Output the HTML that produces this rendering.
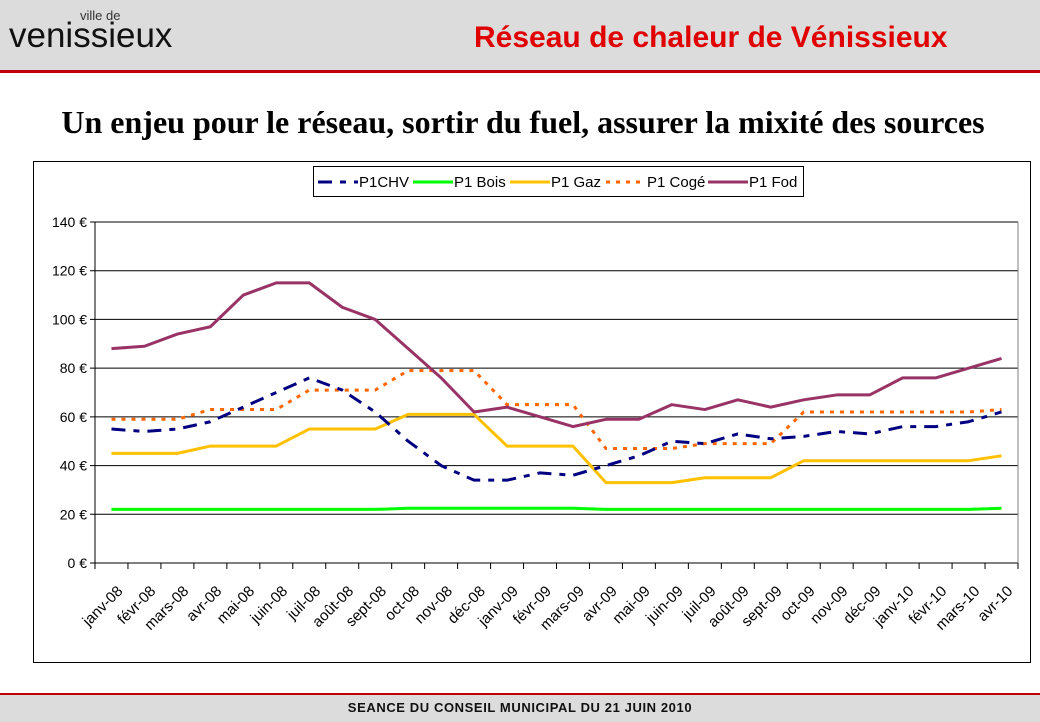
<!DOCTYPE html>
<html><head><meta charset="utf-8">
<style>
body{margin:0;width:1040px;height:720px;background:#fff;position:relative;overflow:hidden;font-family:"Liberation Sans",sans-serif}
#hdr{position:absolute;left:0;top:0;width:1040px;height:70px;background:#dcdcdc;border-bottom:3px solid #c00000}
#ftr{position:absolute;left:0;top:693px;width:1040px;height:27px;background:#dcdcdc;border-top:2px solid #c00000}
</style></head><body>
<div id="hdr">
 <div style="position:absolute;left:80px;top:8px;font-size:13px;color:#333">ville de</div>
 <div style="position:absolute;left:9px;top:18px;font-size:35px;line-height:36px;color:#111">venissieux</div>
 <div style="position:absolute;left:474px;top:21px;font-size:30px;font-weight:bold;color:#e00000;white-space:nowrap">Réseau de chaleur de Vénissieux</div>
</div>
<div style="position:absolute;left:0;width:1046px;top:104px;text-align:center;font-family:'Liberation Serif',serif;font-weight:bold;font-size:32px;color:#000;white-space:nowrap">Un enjeu pour le réseau, sortir du fuel, assurer la mixité des sources</div>
<svg id="chart" width="1040" height="720" style="position:absolute;left:0;top:0"></svg>
<div id="ftr"><div style="text-align:center;font-size:13px;font-weight:bold;letter-spacing:0.6px;margin-top:5px;color:#111">SEANCE DU CONSEIL MUNICIPAL DU 21 JUIN 2010</div></div>
<script>
const categories=["janv-08","févr-08","mars-08","avr-08","mai-08","juin-08","juil-08","août-08","sept-08","oct-08","nov-08","déc-08","janv-09","févr-09","mars-09","avr-09","mai-09","juin-09","juil-09","août-09","sept-09","oct-09","nov-09","déc-09","janv-10","févr-10","mars-10","avr-10"];
const chv=[55,54,55,58,64,70,76,71,62,50,40,34,34,37,36,40,44,50,49,53,51,52,54,53,56,56,58,62];
const bois=[22,22,22,22,22,22,22,22,22,22.5,22.5,22.5,22.5,22.5,22.5,22,22,22,22,22,22,22,22,22,22,22,22,22.5];
const gaz=[45,45,45,48,48,48,55,55,55,61,61,61,48,48,48,33,33,33,35,35,35,42,42,42,42,42,42,44];
const coge=[59,59,59,63,63,63,71,71,71,79,79,79,65,65,65,47,47,47,49,49,49,62,62,62,62,62,62,63];
const fod=[88,89,94,97,110,115,115,105,100,88,76,62,64,60,56,59,59,65,63,67,64,67,69,69,76,76,80,84];
const yTicks=[0,20,40,60,80,100,120,140];
const seriesNames=["P1CHV","P1 Bois","P1 Gaz","P1 Cogé","P1 Fod"];
const NS="http://www.w3.org/2000/svg",svg=document.getElementById('chart');
const X0=95,X1=1018,Y0=563,Y1=222,YMAX=140;
const step=(X1-X0)/categories.length;
const xs=i=>X0+step*(i+0.5), ys=v=>Y0-(v/YMAX)*(Y0-Y1);
function mk(t,a,p){const e=document.createElementNS(NS,t);for(const k in a)e.setAttribute(k,a[k]);(p||svg).appendChild(e);return e;}
const frame=mk('rect',{x:33.5,y:161.5,width:997,height:501,fill:'#fff',stroke:'#000'});


yTicks.forEach(v=>{
 const g=mk('line',{x1:X0-5,x2:X1,y1:ys(v),y2:ys(v),stroke:'#000','stroke-width':1});
 
 
 const t=mk('text',{x:X0-8,y:ys(v)+5,'text-anchor':'end','font-size':14,fill:'#000'});
 t.textContent=v+' €';
 
 
});
mk('line',{x1:X0,x2:X0,y1:Y1,y2:Y0,stroke:'#000'});
mk('line',{x1:X1,x2:X1,y1:Y1,y2:Y0,stroke:'#808080'});
categories.forEach((c,i)=>{
 mk('line',{x1:X0+step*i,x2:X0+step*i,y1:Y0,y2:Y0+6,stroke:'#000'});
 const ax=xs(i)+12, ay=Y0+29;
 const t=mk('text',{x:ax,y:ay,'text-anchor':'end','font-size':15,transform:`rotate(-45 ${ax} ${ay})`});
 t.textContent=c;
 
 
});
mk('line',{x1:X1,x2:X1,y1:Y0,y2:Y0+6,stroke:'#000'});
const styles=[{d:chv,c:'#000080',w:3,da:'14 8 6 8'},{d:bois,c:'#00ff00',w:3,da:''},{d:gaz,c:'#ffc000',w:3,da:''},{d:coge,c:'#ff6600',w:3,da:'4 6'},{d:fod,c:'#993366',w:3,da:''}];
const order=[1,2,3,0,4];
order.forEach(k=>{
 const s=styles[k];
 const p=mk('polyline',{points:s.d.map((v,i)=>xs(i)+','+ys(v)).join(' '),fill:'none',stroke:s.c,'stroke-width':s.w,'stroke-dasharray':s.da,'stroke-linejoin':'round'});
 
 
});
const lg=mk('rect',{x:313.5,y:166.5,width:490,height:30,fill:'#fff',stroke:'#000'});


const lx=[318,413,510,606,708];
styles.forEach((s,k)=>{
 mk('line',{x1:lx[k],x2:lx[k]+40,y1:182,y2:182,stroke:s.c,'stroke-width':3,'stroke-dasharray':s.da});
 const t=mk('text',{x:lx[k]+41,y:187,'font-size':15});
 t.textContent=seriesNames[k];
 
 
});
</script>
</body></html>
